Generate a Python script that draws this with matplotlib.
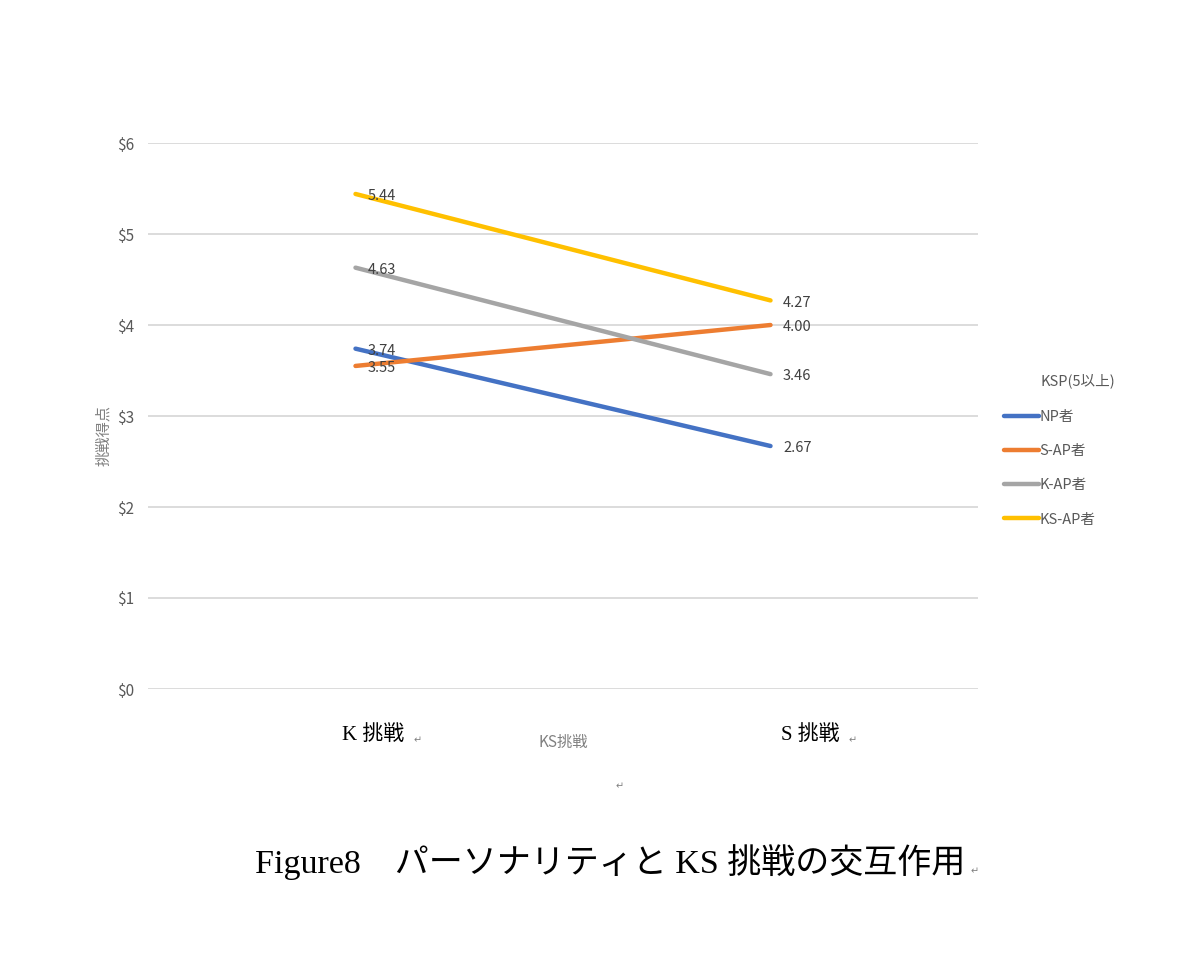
import matplotlib
matplotlib.use("Agg")
import matplotlib.pyplot as plt

# chart data
categories = ["K挑戦", "S挑戦"]
series_names = ["NP者", "S-AP者", "K-AP者", "KS-AP者"]
np_vals = [3.74, 2.67]
sap_vals = [3.55, 4.00]
kap_vals = [4.63, 3.46]
ksap_vals = [5.44, 4.27]
yticks = [0, 1, 2, 3, 4, 5, 6]
ytick_labels = ["$0", "$1", "$2", "$3", "$4", "$5", "$6"]

colors = ["#4472C4", "#ED7D31", "#A5A5A5", "#FFC000"]
sans = ["Noto Sans CJK JP", "DejaVu Sans"]
serif = ["Liberation Serif", "Noto Sans CJK JP"]
plt.rcParams["font.family"] = sans

fig = plt.figure(figsize=(12.02, 9.71), dpi=100)
# plot area: x 148..978, y 143..689 (px)
ax = fig.add_axes([148 / 1202, 1 - 689 / 971, 830 / 1202, 546 / 971])

x = list(range(len(categories)))
for name, vals, c in zip(series_names, [np_vals, sap_vals, kap_vals, ksap_vals], colors):
    ax.plot(x, vals, color=c, linewidth=3.2, solid_capstyle="round", label=name, zorder=3)
    for xi, v in zip(x, vals):
        ax.annotate(f"{v:.2f}", (xi, v), textcoords="offset points", xytext=(9, -1.5),
                    ha="left", va="center", fontsize=10.5, color="#404040", zorder=4)

ax.set_xlim(-0.5, 1.5)
ax.set_ylim(0, 6)
ax.set_yticks(yticks)
ax.set_yticklabels(ytick_labels, color="#595959", fontsize=11)
ax.set_xticks([])
ax.tick_params(axis="y", length=0, pad=10)
ax.grid(axis="y", color="#D9D9D9", linewidth=1.3)
ax.set_axisbelow(True)
for s in ax.spines.values():
    s.set_visible(False)

ax.set_ylabel("挑戦得点", color="#808080", fontsize=11)
ax.yaxis.set_label_coords(-0.043, 0.465)

leg = ax.legend(loc="upper left", bbox_to_anchor=(1.019, (689 - 400) / 546),
                frameon=False, fontsize=10.5, handlelength=2.4, handletextpad=0.05,
                labelspacing=1.38, labelcolor="#595959", borderaxespad=0.3)
fig.text(1040 / 1202, 1 - 381 / 971, "KSP(5以上)", ha="left", va="center",
         fontsize=10.5, color="#595959")

# text from the surrounding document
fig.text(563 / 1202, 1 - 742 / 971, "KS挑戦", ha="center", va="center",
         fontsize=11, color="#808080")
fig.text(373 / 1202, 1 - 735 / 971, "K 挑戦", ha="center", va="center",
         fontsize=15, family=serif, color="black")
fig.text(810 / 1202, 1 - 735 / 971, "S 挑戦", ha="center", va="center",
         fontsize=15, family=serif, color="black")
for px, py in [(418, 740), (853, 740), (620, 786), (975, 871)]:
    fig.text(px / 1202, 1 - py / 971, "↵", ha="center", va="center",
             fontsize=7, color="#808080", family=["DejaVu Sans"])
fig.text(610 / 1202, 1 - 862 / 971, "Figure8　パーソナリティと KS 挑戦の交互作用",
         ha="center", va="center", fontsize=24.5, family=serif, color="black")

fig.savefig("out.png", dpi=100)
